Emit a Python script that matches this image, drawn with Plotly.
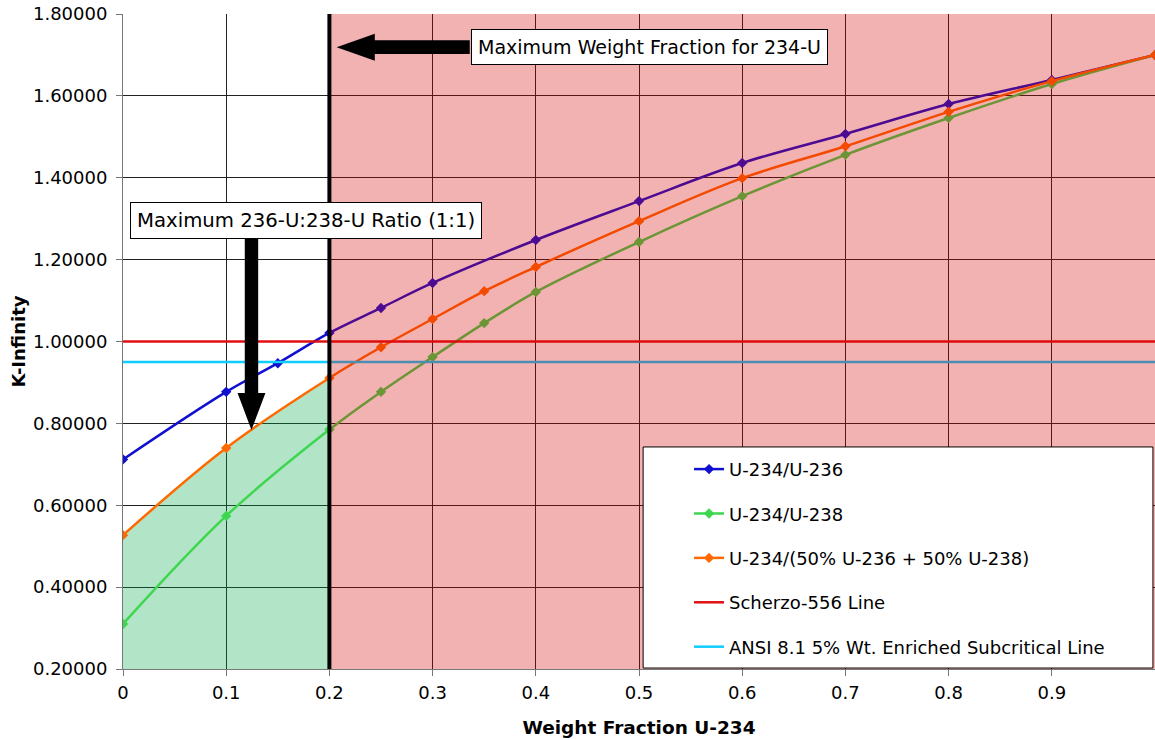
import plotly.graph_objects as go

# ---- data ----
x_236 = [0, 0.1, 0.15, 0.2, 0.25, 0.3, 0.4, 0.5, 0.6, 0.7, 0.8, 0.9, 1.0]
k_236 = [0.712, 0.877, 0.947, 1.021, 1.082, 1.143, 1.248, 1.343, 1.436, 1.507, 1.580, 1.639, 1.700]

x_238 = [0, 0.1, 0.2, 0.25, 0.3, 0.35, 0.4, 0.5, 0.6, 0.7, 0.8, 0.9, 1.0]
k_238 = [0.310, 0.574, 0.785, 0.877, 0.962, 1.045, 1.121, 1.243, 1.355, 1.456, 1.546, 1.629, 1.700]

x_mix = [0, 0.1, 0.2, 0.25, 0.3, 0.35, 0.4, 0.5, 0.6, 0.7, 0.8, 0.9, 1.0]
k_mix = [0.527, 0.740, 0.911, 0.986, 1.055, 1.123, 1.182, 1.294, 1.399, 1.477, 1.561, 1.636, 1.700]

x_limits = [0, 1.0]
k_scherzo = [1.0, 1.0]
k_ansi = [0.95, 0.95]

max_fraction = 0.2
x_ticks = [0, 0.1, 0.2, 0.3, 0.4, 0.5, 0.6, 0.7, 0.8, 0.9, 1.0]
x_ticklabels = ["0", "0.1", "0.2", "0.3", "0.4", "0.5", "0.6", "0.7", "0.8", "0.9", "1"]
y_ticks = [0.2, 0.4, 0.6, 0.8, 1.0, 1.2, 1.4, 1.6, 1.8]

names = ["U-234/U-236", "U-234/U-238", "U-234/(50% U-236 + 50% U-238)",
         "Scherzo-556 Line", "ANSI 8.1 5% Wt. Enriched Subcritical Line"]

FONT = "DejaVu Sans"
fig = go.Figure()

# green safe region under mixed curve up to max fraction
fill_x = [x for x in x_mix if x <= max_fraction]
fill_y = k_mix[:len(fill_x)]
fig.add_trace(go.Scatter(x=fill_x, y=fill_y, mode="lines", fill="tozeroy",
                         fillcolor="rgba(0,170,70,0.30)", line=dict(width=0, shape="spline"),
                         showlegend=False, hoverinfo="skip"))

fig.add_trace(go.Scatter(x=x_236, y=k_236, name=names[0], legendgroup="a",
                         mode="lines+markers", line=dict(color="#1010d0", width=2.5, shape="spline"),
                         marker=dict(symbol="diamond", size=8, color="#1010d0")))
fig.add_trace(go.Scatter(x=x_238, y=k_238, name=names[1], legendgroup="b",
                         mode="lines+markers", line=dict(color="#3ed64e", width=2.5, shape="spline"),
                         marker=dict(symbol="diamond", size=8, color="#3ed64e")))
fig.add_trace(go.Scatter(x=x_mix, y=k_mix, name=names[2], legendgroup="c",
                         mode="lines+markers", line=dict(color="#ff6a00", width=2.5, shape="spline"),
                         marker=dict(symbol="diamond", size=8, color="#ff6a00")))
fig.add_trace(go.Scatter(x=x_limits, y=k_scherzo, name=names[3], legendgroup="d",
                         mode="lines", line=dict(color="#e01010", width=2.5)))
fig.add_trace(go.Scatter(x=x_limits, y=k_ansi, name=names[4], legendgroup="e",
                         mode="lines", line=dict(color="#10ccff", width=2.5)))

shapes = [
    # red unsafe region overlay
    dict(type="rect", xref="x", yref="y", x0=max_fraction, x1=1.0, y0=0.2, y1=1.8,
         fillcolor="rgb(215,0,0)", opacity=0.3, line=dict(width=0), layer="above"),
    # vertical max fraction line
    dict(type="line", xref="x", yref="y", x0=max_fraction, x1=max_fraction, y0=0.2, y1=1.8,
         line=dict(color="black", width=4), layer="above"),
    # horizontal block arrow
    dict(type="path", xref="x", yref="y", layer="above", fillcolor="black", line=dict(width=0),
         path="M 0.207,1.719 L 0.244,1.752 L 0.244,1.736 L 0.336,1.736 L 0.336,1.702 L 0.244,1.702 L 0.244,1.686 Z"),
    # vertical block arrow
    dict(type="path", xref="x", yref="y", layer="above", fillcolor="black", line=dict(width=0),
         path="M 0.118,1.255 L 0.131,1.255 L 0.131,0.874 L 0.138,0.874 L 0.1245,0.784 L 0.111,0.874 L 0.118,0.874 Z"),
    # legend box
    dict(type="rect", xref="paper", yref="paper", x0=0.504, x1=0.998, y0=0.0015, y1=0.339,
         fillcolor="white", line=dict(color="black", width=1), layer="above"),
]

annotations = [
    dict(x=0.5105, y=1.719, xref="x", yref="y", text="Maximum Weight Fraction for 234-U",
         showarrow=False, bgcolor="white", bordercolor="black", borderwidth=1, borderpad=6,
         font=dict(family=FONT, size=19, color="black")),
    dict(x=0.1775, y=1.2955, xref="x", yref="y", text="Maximum 236-U:238-U Ratio (1:1)",
         showarrow=False, bgcolor="white", bordercolor="black", borderwidth=1, borderpad=6,
         font=dict(family=FONT, size=19.7, color="black")),
]

fig.update_layout(
    width=1155, height=740,
    margin=dict(l=123, r=0, t=14, b=71, autoexpand=False),
    paper_bgcolor="white", plot_bgcolor="white",
    font=dict(family=FONT, size=18, color="black"),
    shapes=shapes, annotations=annotations,
    legend=dict(x=0.5485, y=0.333, xanchor="left", yanchor="top", bgcolor="rgba(0,0,0,0)",
                borderwidth=0, traceorder="grouped", tracegroupgap=18,
                font=dict(family=FONT, size=18, color="black")),
    xaxis=dict(range=[0, 1.0], tickvals=x_ticks, ticktext=x_ticklabels, automargin=False,
               showgrid=True, gridcolor="#222", gridwidth=1, ticklabelstandoff=1,
               ticks="outside", ticklen=6, tickcolor="#777", showline=True, linecolor="#777",
               zeroline=False, tickfont=dict(size=18),
               title=dict(text="<b>Weight Fraction U-234</b>", standoff=19,
                          font=dict(family=FONT, size=18.5))),
    yaxis=dict(range=[0.2, 1.8], tickvals=y_ticks, tickformat=".5f", automargin=False,
               showgrid=True, gridcolor="#222", gridwidth=1, ticklabelstandoff=5,
               ticks="outside", ticklen=6, tickcolor="#777", showline=True, linecolor="#777",
               zeroline=False, tickfont=dict(size=18),
               title=dict(text="<b>K-Infinity</b>", standoff=2,
                          font=dict(family=FONT, size=18))),
)

fig.write_html("out.html", config={"displayModeBar": False},
               post_script="document.body.style.margin='0';document.body.style.overflow='hidden';")
